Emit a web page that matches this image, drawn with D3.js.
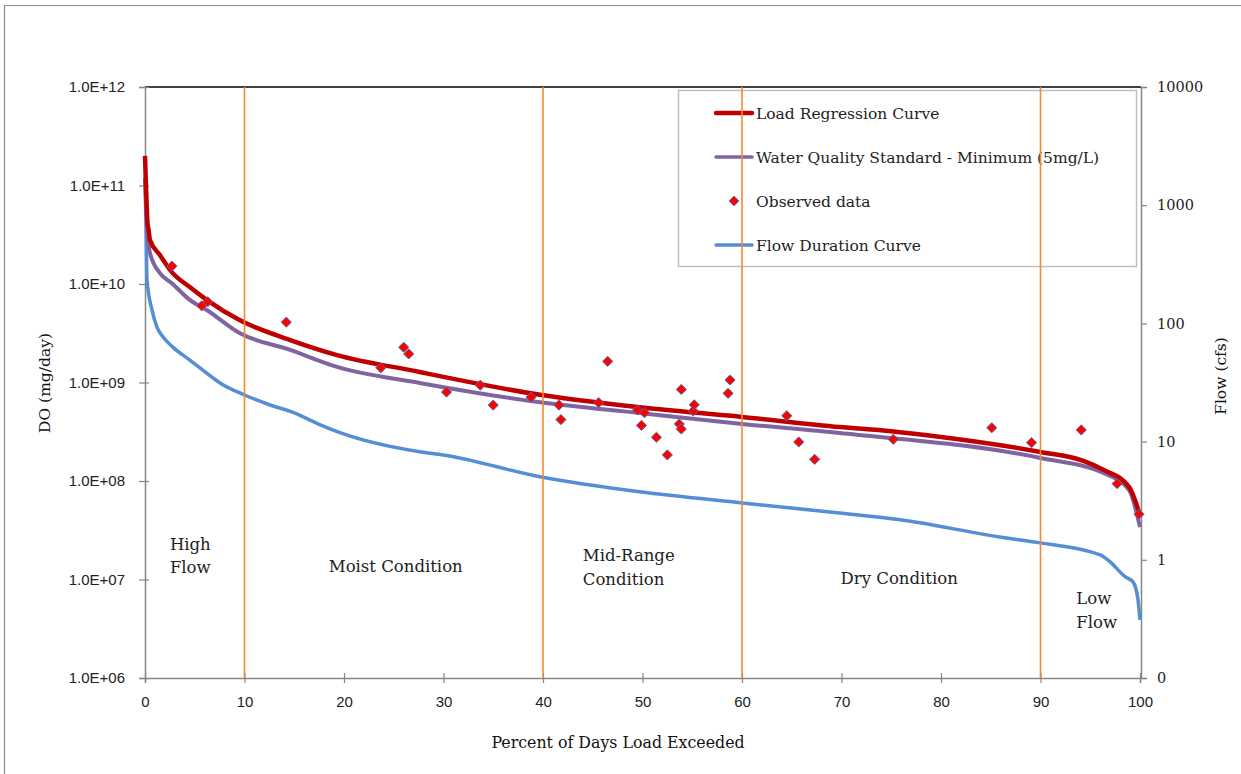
<!DOCTYPE html>
<html>
<head>
<meta charset="utf-8">
<script src="https://cdn.jsdelivr.net/npm/d3@7"></script>
<style>
  html, body { margin: 0; padding: 0; background: #fff; }
  svg { display: block; }
</style>
</head>
<body>
<svg id="chart" width="1241" height="774"></svg>
<script>
// Flow duration curve (cfs) by percent of days exceeded
const flowPct = [0, 0.1, 0.2, 0.7, 1.2, 1.8, 2.8, 4.5, 6.2, 7.5, 10, 12.5, 15, 17.5, 19.6, 27.6, 30, 39.7, 49.7, 60, 69.8, 75.9, 85.9, 90, 96, 97, 98.5, 99.3, 99.8, 100];
const flowCfs = [1640, 700, 233, 130, 93, 77, 63, 49, 38, 31.5, 24.8, 20.5, 17.5, 14.0, 11.9, 8.2, 7.7, 5.04, 3.76, 3.03, 2.49, 2.18, 1.56, 1.39, 1.10, 0.96, 0.72, 0.65, 0.46, 0.31];

// Load regression curve (mg/day)
const loadPct = [0, 0.1, 0.25, 0.35, 0.5, 1.5, 2.7, 4.5, 6.2, 9.5, 14.6, 19.3, 27.6, 30, 39.7, 49.7, 60, 69.8, 75, 80, 90, 94.3, 96.4, 98.9, 100];
const loadVal = [2.0e11, 1.0e11, 4.2e10, 3.6e10, 2.8e10, 1.97e10, 1.32e10, 9.3e9, 6.9e9, 4.3e9, 2.7e9, 1.9e9, 1.28e9, 1.14e9, 7.5e8, 5.6e8, 4.47e8, 3.53e8, 3.2e8, 2.8e8, 1.97e8, 1.6e8, 1.29e8, 8.7e7, 4.5e7];

// Water quality standard - minimum DO 5 mg/L (mg/day)
const wqsPct = [0, 0.15, 0.3, 0.5, 1.5, 2.7, 4.5, 6.2, 9.5, 14.6, 19.3, 27.6, 39.7, 49.7, 60, 69.8, 90, 96.4, 98.9, 100];
const wqsVal = [1.2e11, 5.0e10, 2.8e10, 2.07e10, 1.29e10, 1.02e10, 6.9e9, 5.45e9, 3.18e9, 2.14e9, 1.44e9, 9.9e8, 6.3e8, 4.9e8, 3.8e8, 3.07e8, 1.71e8, 1.2e8, 8.1e7, 3.4e7];

// Observed DO loads (mg/day)
const obsPct = [2.7, 5.7, 6.3, 14.2, 23.7, 26.0, 26.5, 30.3, 33.7, 35.0, 38.8, 41.6, 41.8, 45.6, 46.5, 49.5, 49.9, 50.2, 51.4, 52.5, 53.7, 53.9, 53.9, 55.1, 55.2, 58.6, 58.8, 64.5, 65.7, 67.3, 75.2, 85.1, 89.1, 94.1, 97.7, 99.9];
const obsVal = [1.52e10, 6.0e9, 6.6e9, 4.1e9, 1.41e9, 2.28e9, 1.95e9, 8.0e8, 9.4e8, 5.9e8, 7.1e8, 5.9e8, 4.2e8, 6.25e8, 1.64e9, 5.26e8, 3.67e8, 4.93e8, 2.78e8, 1.84e8, 3.79e8, 3.37e8, 8.5e8, 5.14e8, 5.94e8, 7.76e8, 1.06e9, 4.6e8, 2.49e8, 1.66e8, 2.65e8, 3.47e8, 2.45e8, 3.3e8, 9.4e7, 4.6e7];

// Flow-regime boundaries and zone labels
const zoneBounds = [10, 40, 60, 90];
const zoneLabels = [
  { lines: ["High", "Flow"], pct: 2.5, anchor: "start", line1: 2.0e7 },
  { lines: ["Moist Condition"], pct: 25.2, anchor: "middle", line1: 1.19e7 },
  { lines: ["Mid-Range", "Condition"], pct: 44.0, anchor: "start", line1: 1.54e7 },
  { lines: ["Dry Condition"], pct: 75.8, anchor: "middle", line1: 9.0e6 },
  { lines: ["Low", "Flow"], pct: 93.6, anchor: "start", line1: 5.6e6 }
];

// Axis ticks
const xTicks = [0, 10, 20, 30, 40, 50, 60, 70, 80, 90, 100];
const leftTickVals = [1e6, 1e7, 1e8, 1e9, 1e10, 1e11, 1e12];
const leftTickLabels = ["1.0E+06", "1.0E+07", "1.0E+08", "1.0E+09", "1.0E+10", "1.0E+11", "1.0E+12"];
const rightTickVals = [0.1, 1, 10, 100, 1000, 10000];
const rightTickLabels = ["0", "1", "10", "100", "1000", "10000"];

const legendItems = ["Load Regression Curve", "Water Quality Standard - Minimum (5mg/L)", "Observed data", "Flow Duration Curve"];

const svg = d3.select("#chart");
const serif = "'DejaVu Serif', 'Liberation Serif', serif";
const sans = "'Liberation Sans', Arial, sans-serif";

const plot = { left: 145, right: 1140, top: 87, bottom: 678 };
const x = d3.scaleLinear().domain([0, 100]).range([plot.left, plot.right]);
const yL = d3.scaleLog().domain([1e6, 1e12]).range([plot.bottom, plot.top]);
const yR = d3.scaleLog().domain([0.1, 10000]).range([plot.bottom, plot.top]);

const colors = { load: "#C00000", wqs: "#8064A2", flow: "#558ED5", zone: "#F28A30", diamond: "#FF0000", diamondEdge: "#4F6FA8" };

// Outer chart frame
svg.append("path")
  .attr("d", `M4.5,774 L4.5,5.5 L1241,5.5`)
  .attr("fill", "none").attr("stroke", "#8c8c8c").attr("stroke-width", 1.2);

// Top border line of the plot area
svg.append("line")
  .attr("x1", plot.left).attr("x2", plot.right + 1)
  .attr("y1", plot.top).attr("y2", plot.top)
  .attr("stroke", "#000").attr("stroke-width", 1.5);

// Left axis
const gL = svg.append("g").attr("transform", `translate(${plot.left},0)`)
  .call(d3.axisLeft(yL).tickValues(leftTickVals).tickFormat((d, i) => leftTickLabels[i]).tickSize(6).tickPadding(14));
gL.select(".domain").attr("stroke", "#868686").attr("stroke-width", 1.5);
gL.selectAll(".tick line").attr("stroke", "#868686").attr("stroke-width", 1.2).attr("x2", -6).attr("x1", 4);
gL.selectAll(".tick text").attr("font-family", sans).attr("font-size", 15).attr("fill", "#222");

// Right axis
const gR = svg.append("g").attr("transform", `translate(${plot.right + 1},0)`)
  .call(d3.axisRight(yR).tickValues(rightTickVals).tickFormat((d, i) => rightTickLabels[i]).tickSize(6).tickPadding(10));
gR.select(".domain").attr("stroke", "#868686").attr("stroke-width", 1.5);
gR.selectAll(".tick line").attr("stroke", "#868686").attr("stroke-width", 1.2);
gR.selectAll(".tick text").attr("font-family", serif).attr("font-size", 14.5).attr("fill", "#222");

// Bottom axis
const gB = svg.append("g").attr("transform", `translate(0,${plot.bottom})`)
  .call(d3.axisBottom(x).tickValues(xTicks).tickFormat(d3.format("d")).tickSize(5).tickPadding(13));
gB.select(".domain").attr("stroke", "#868686").attr("stroke-width", 1.5);
gB.selectAll(".tick line").attr("stroke", "#868686").attr("stroke-width", 1.2).attr("y1", -5).attr("y2", 5);
gB.selectAll(".tick text").attr("font-family", sans).attr("font-size", 15).attr("fill", "#222");

// Axis titles
svg.append("text")
  .attr("transform", `translate(50,383) rotate(-90)`)
  .attr("text-anchor", "middle")
  .attr("font-family", serif).attr("font-size", 15.5).attr("fill", "#111")
  .text("DO (mg/day)");
svg.append("text")
  .attr("transform", `translate(1226,376) rotate(-90)`)
  .attr("text-anchor", "middle")
  .attr("font-family", serif).attr("font-size", 15.5).attr("fill", "#111")
  .text("Flow (cfs)");
svg.append("text")
  .attr("x", 618).attr("y", 748)
  .attr("text-anchor", "middle")
  .attr("font-family", serif).attr("font-size", 15.8).attr("fill", "#111")
  .text("Percent of Days Load Exceeded");

// Legend box and entries
const legend = svg.append("g");
legend.append("rect")
  .attr("x", 678.5).attr("y", 90.5).attr("width", 458).attr("height", 176)
  .attr("fill", "none").attr("stroke", "#bfbfbf").attr("stroke-width", 1.5);
const legendRowY = [113, 157, 201, 245];
legendItems.forEach((label, i) => {
  const yy = legendRowY[i];
  if (i === 0 || i === 1 || i === 3) {
    const c = i === 0 ? colors.load : i === 1 ? colors.wqs : colors.flow;
    legend.append("line")
      .attr("x1", 716).attr("x2", 752).attr("y1", yy).attr("y2", yy)
      .attr("stroke", c).attr("stroke-width", i === 0 ? 4.5 : 3.5).attr("stroke-linecap", "round");
  } else {
    legend.append("path")
      .attr("d", d3.symbol(d3.symbolDiamond2, 60)())
      .attr("transform", `translate(734,${yy})`)
      .attr("fill", colors.diamond).attr("stroke", colors.diamondEdge).attr("stroke-width", 1);
  }
  legend.append("text")
    .attr("x", 756).attr("y", yy + 5.5)
    .attr("font-family", serif).attr("font-size", 15.5).attr("fill", "#222")
    .text(label);
});

// Curves
const pairs = (p, v) => p.map((d, i) => [d, v[i]]);
const lineL = d3.line().curve(d3.curveMonotoneX).x(d => x(d[0])).y(d => yL(d[1]));
const lineR = d3.line().curve(d3.curveMonotoneX).x(d => x(d[0])).y(d => yR(d[1]));

svg.append("path").datum(pairs(flowPct, flowCfs))
  .attr("d", lineR).attr("fill", "none")
  .attr("stroke", colors.flow).attr("stroke-width", 3.5).attr("stroke-linejoin", "round");
svg.append("path").datum(pairs(wqsPct, wqsVal))
  .attr("d", lineL).attr("fill", "none")
  .attr("stroke", colors.wqs).attr("stroke-width", 4).attr("stroke-linejoin", "round");
svg.append("path").datum(pairs(loadPct, loadVal))
  .attr("d", lineL).attr("fill", "none")
  .attr("stroke", colors.load).attr("stroke-width", 4.5).attr("stroke-linejoin", "round");

// Flow-regime boundary lines
svg.selectAll("line.zone").data(zoneBounds).enter().append("line")
  .attr("class", "zone")
  .attr("x1", d => x(d)).attr("x2", d => x(d))
  .attr("y1", plot.top).attr("y2", plot.bottom)
  .attr("stroke", colors.zone).attr("stroke-width", 1.6);

// Observed data points
svg.selectAll("path.obs").data(pairs(obsPct, obsVal)).enter().append("path")
  .attr("class", "obs")
  .attr("d", d3.symbol(d3.symbolDiamond2, 66)())
  .attr("transform", d => `translate(${x(d[0])},${yL(d[1])})`)
  .attr("fill", colors.diamond).attr("stroke", colors.diamondEdge).attr("stroke-width", 1);

// Zone labels
zoneLabels.forEach(z => {
  const t = svg.append("text")
    .attr("x", x(z.pct)).attr("y", yL(z.line1))
    .attr("text-anchor", z.anchor)
    .attr("font-family", serif).attr("font-size", 16.5).attr("fill", "#222");
  z.lines.forEach((ln, i) => {
    t.append("tspan").attr("x", x(z.pct)).attr("dy", i === 0 ? 0 : 23.5).text(ln);
  });
});
</script>
</body>
</html>
